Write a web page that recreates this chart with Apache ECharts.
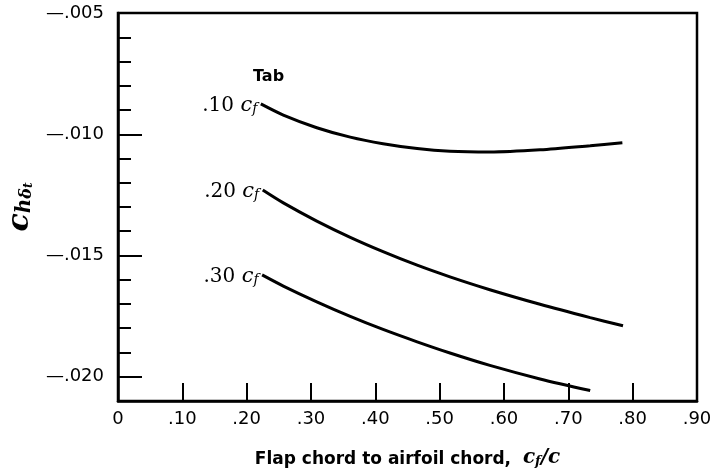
<!DOCTYPE html>
<html>
<head>
<meta charset="utf-8">
<script src="https://cdn.jsdelivr.net/npm/echarts@6/dist/echarts.min.js"></script>
<style>html,body{margin:0;padding:0;background:#fff;}#chart{width:712px;height:472px;}</style>
</head>
<body>
<div id="chart"></div>
<script>
// Tick values / labels
const xTickLabels = ['0', '.10', '.20', '.30', '.40', '.50', '.60', '.70', '.80', '.90'];
const yTickValues = [-0.020, -0.015, -0.010, -0.005];
const yTickLabels = ['\u2014.020', '\u2014.015', '\u2014.010', '\u2014.005'];
const curveNames = ['.10', '.20', '.30'];

// Tab .10 cf
const tab10X = [0.222, 0.257, 0.309, 0.361, 0.412, 0.465, 0.516, 0.578, 0.656, 0.734, 0.784];
const tab10Y = [-0.00875, -0.00921, -0.00973, -0.01012, -0.01039, -0.01059, -0.01070, -0.01073, -0.01064, -0.01047, -0.01035];
// Tab .20 cf
const tab20X = [0.225, 0.257, 0.309, 0.361, 0.412, 0.465, 0.516, 0.578, 0.656, 0.734, 0.785];
const tab20Y = [-0.01230, -0.01283, -0.01358, -0.01425, -0.01484, -0.01540, -0.01588, -0.01641, -0.01701, -0.01756, -0.01790];
// Tab .30 cf
const tab30X = [0.224, 0.257, 0.309, 0.361, 0.412, 0.465, 0.516, 0.578, 0.656, 0.734];
const tab30Y = [-0.01580, -0.01626, -0.01691, -0.01751, -0.01805, -0.01856, -0.01902, -0.01953, -0.02009, -0.02057];

const chart = echarts.init(document.getElementById('chart'), null, {renderer: 'canvas'});

const serif = 'DejaVu Serif';
const sans = 'DejaVu Sans';

function makeSeries(name, xs, ys) {
  const data = xs.map((x, i) => {
    const d = {value: [x, ys[i]]};
    if (i === 0) {
      d.label = {
        show: true,
        position: 'left',
        distance: 3,
        offset: [0, 5],
        formatter: '{n|' + name + ' }{c|c}{f|f}',
        rich: {
          n: {fontFamily: serif, fontSize: 20, color: '#000', verticalAlign: 'bottom', lineHeight: 24},
          c: {fontFamily: serif, fontStyle: 'italic', fontSize: 21, color: '#000', verticalAlign: 'bottom', lineHeight: 24},
          f: {fontFamily: serif, fontStyle: 'italic', fontSize: 14, color: '#000', verticalAlign: 'bottom', lineHeight: 15}
        }
      };
    }
    return d;
  });
  return {
    type: 'line',
    name: name,
    data: data,
    smooth: 0.3,
    symbol: 'circle',
    symbolSize: 1,
    showSymbol: true,
    itemStyle: {color: 'rgba(0,0,0,0)', borderWidth: 0},
    xAxisIndex: 0,
    yAxisIndex: 0,
    lineStyle: {color: '#000', width: 3},
    labelLayout: {hideOverlap: false},
    silent: true,
    z: 5
  };
}

const option = {
  animation: false,
  backgroundColor: '#fff',
  title: {
    text: 'Tab',
    left: 253,
    top: 69,
    textStyle: {fontFamily: sans, fontWeight: 'bold', fontSize: 16, color: '#000'},
    padding: 0
  },
  grid: {
    left: 118, right: 15, top: 13, bottom: 71,
    containLabel: false,
    outerBoundsMode: 'none',
    show: true, borderColor: '#000', borderWidth: 2.5, backgroundColor: 'transparent'
  },
  xAxis: {
    type: 'value',
    min: 0, max: 0.9, interval: 0.1,
    name: '{t|Flap chord to airfoil chord,  }{c|c}{f|f}{c|/c}',
    nameLocation: 'middle',
    nameGap: 45,
    nameTextStyle: {
      rich: {
        t: {fontFamily: sans, fontWeight: 'bold', fontSize: 17, color: '#000', verticalAlign: 'bottom', lineHeight: 22},
        c: {fontFamily: serif, fontStyle: 'italic', fontWeight: 'bold', fontSize: 20, color: '#000', verticalAlign: 'bottom', lineHeight: 22},
        f: {fontFamily: serif, fontStyle: 'italic', fontWeight: 'bold', fontSize: 13, color: '#000', verticalAlign: 'bottom', lineHeight: 15}
      }
    },
    axisLine: {onZero: false, lineStyle: {color: '#000', width: 2.5}},
    axisTick: {inside: true, length: 18, lineStyle: {color: '#000', width: 2}},
    axisLabel: {
      margin: 9,
      fontFamily: sans, fontSize: 18, color: '#000',
      formatter: function (v) { return xTickLabels[Math.round(v * 10)] || ''; }
    },
    splitLine: {show: false}
  },
  yAxis: [
    {
      type: 'value',
      min: -0.021, max: -0.005, interval: 0.001,
      position: 'left',
      name: '{c|c}{h|h}{d|\u03b4}{t|t}',
      nameLocation: 'middle',
      nameRotate: 90,
      nameGap: 62,
      nameTextStyle: {
        rich: {
          c: {fontFamily: serif, fontStyle: 'italic', fontWeight: 'bold', fontSize: 30, color: '#000', verticalAlign: 'bottom', lineHeight: 36},
          h: {fontFamily: serif, fontStyle: 'italic', fontWeight: 'bold', fontSize: 20, color: '#000', verticalAlign: 'bottom', lineHeight: 27},
          d: {fontFamily: serif, fontStyle: 'italic', fontWeight: 'bold', fontSize: 16, color: '#000', verticalAlign: 'bottom', lineHeight: 19},
          t: {fontFamily: serif, fontStyle: 'italic', fontWeight: 'bold', fontSize: 12, color: '#000', verticalAlign: 'bottom', lineHeight: 11}
        }
      },
      axisLine: {onZero: false, lineStyle: {color: '#000', width: 2.5}},
      axisTick: {inside: true, length: 24, customValues: yTickValues, lineStyle: {color: '#000', width: 2}},
      axisLabel: {
        margin: 14,
        customValues: yTickValues,
        fontFamily: sans, fontSize: 18, color: '#000',
        formatter: function (v) {
          const i = yTickValues.findIndex(t => Math.abs(t - v) < 1e-9);
          return i >= 0 ? yTickLabels[i] : '';
        }
      },
      splitLine: {show: false}
    },
    {
      type: 'value',
      min: -0.021, max: -0.005, interval: 0.001,
      position: 'left',
      axisLine: {show: false},
      axisTick: {inside: true, length: 13, lineStyle: {color: '#000', width: 2}},
      axisLabel: {show: false},
      splitLine: {show: false}
    }
  ],
  series: [
    makeSeries(curveNames[0], tab10X, tab10Y),
    makeSeries(curveNames[1], tab20X, tab20Y),
    makeSeries(curveNames[2], tab30X, tab30Y)
  ]
};
chart.setOption(option);
</script>
</body>
</html>
